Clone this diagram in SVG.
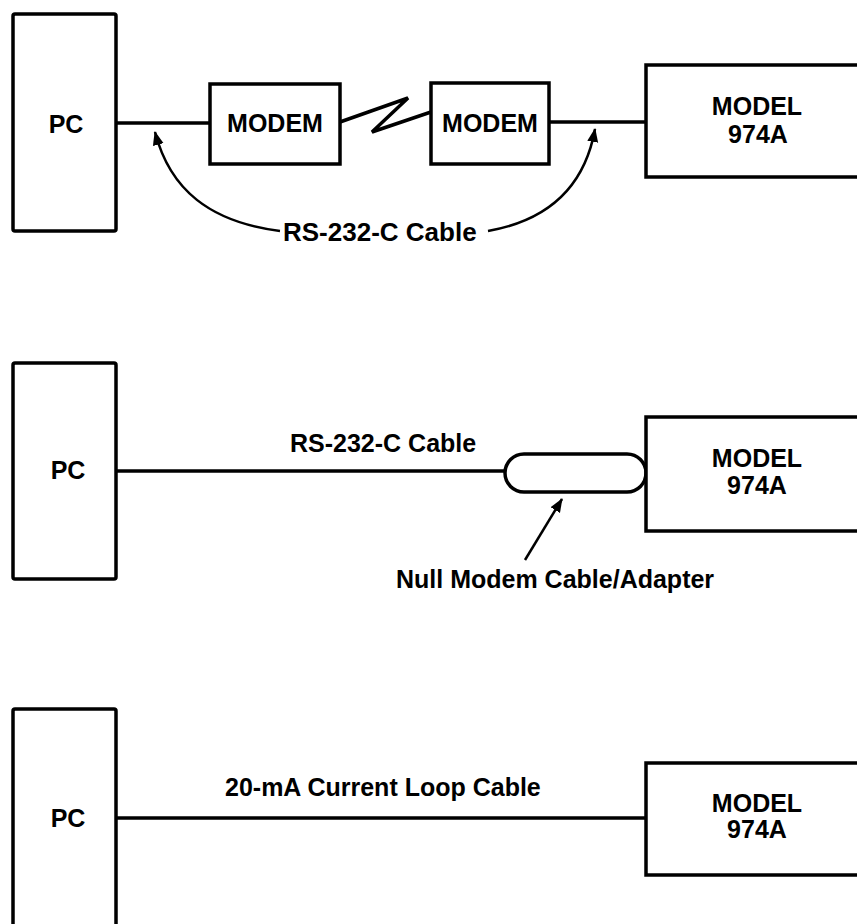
<svg xmlns="http://www.w3.org/2000/svg" width="857" height="924" viewBox="0 0 857 924">
<style>
.box{fill:#fff;stroke:#000;stroke-width:3.5}
.ln{fill:none;stroke:#000;stroke-width:3.5}
.thin{fill:none;stroke:#000;stroke-width:2.5}
text{font-family:"Liberation Sans",Arial,sans-serif;font-weight:bold;font-size:25px;fill:#000}
.c{text-anchor:middle}
</style>
<defs>
<marker id="ah" viewBox="0 0 14 12" refX="13" refY="6" markerWidth="14" markerHeight="12" markerUnits="userSpaceOnUse" orient="auto">
<path d="M0,0.5 L14,6 L0,11.5 Z" fill="#000"/>
</marker>
</defs>
<g id="connectors">
<line class="ln" x1="116" y1="123" x2="210" y2="123"/>
<polyline class="ln" points="340,122 408,98 372,132 431,112"/>
<line class="ln" x1="549" y1="122" x2="646" y2="122"/>
<path class="thin" d="M280,231 C210,222 170,190 155,132" marker-end="url(#ah)"/>
<path class="thin" d="M488,231 C550,220 585,185 595,129" marker-end="url(#ah)"/>
<line class="ln" x1="116" y1="471" x2="505" y2="471"/>
<path class="thin" d="M525,560 L562,499" marker-end="url(#ah)"/>
<line class="ln" x1="116" y1="818" x2="646" y2="818"/>
</g>
<g id="pc1"><rect class="box" x="13" y="14" width="103" height="217" rx="2"/><text class="c" x="66" y="133">PC</text></g>
<g id="modem1"><rect class="box" x="210" y="84" width="130" height="80"/><text class="c" x="275" y="132">MODEM</text></g>
<g id="modem2"><rect class="box" x="431" y="83" width="118" height="81"/><text class="c" x="490" y="132">MODEM</text></g>
<g id="model1"><rect class="box" x="646" y="65" width="230" height="112"/><text class="c" x="757" y="115">MODEL</text><text class="c" x="758" y="143">974A</text></g>
<g id="label1"><text x="283" y="241" style="font-size:26px">RS-232-C Cable</text></g>
<g id="pc2"><rect class="box" x="13" y="363" width="103" height="216" rx="2"/><text class="c" x="68" y="479">PC</text></g>
<g id="nullmodem"><rect class="box" x="505" y="454" width="141" height="38" rx="19"/></g>
<g id="model2"><rect class="box" x="646" y="417" width="230" height="114"/><text class="c" x="757" y="467">MODEL</text><text class="c" x="757" y="494">974A</text></g>
<g id="label2"><text x="290" y="452">RS-232-C Cable</text><text x="396" y="588">Null Modem Cable/Adapter</text></g>
<g id="pc3"><rect class="box" x="13" y="709" width="103" height="240" rx="2"/><text class="c" x="68" y="827">PC</text></g>
<g id="model3"><rect class="box" x="646" y="763" width="230" height="112"/><text class="c" x="757" y="812">MODEL</text><text class="c" x="757" y="838">974A</text></g>
<g id="label3"><text x="225" y="796">20-mA Current Loop Cable</text></g>
</svg>
